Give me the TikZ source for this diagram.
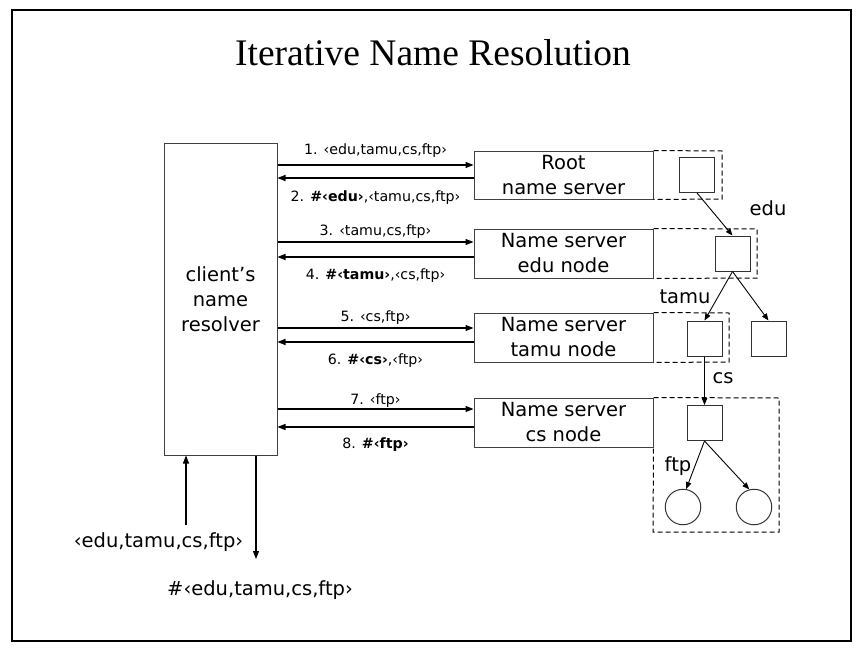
\documentclass[tikz,border=0pt]{standalone}
\usepackage{fontspec}
\setmainfont{DejaVu Sans}
\newfontfamily\titlefont{Liberation Serif}
\usetikzlibrary{arrows.meta}
\begin{document}
\begin{tikzpicture}[x=1pt,y=-1pt,
  box/.style={draw=black!75, line width=1pt, inner sep=0pt, align=center, font=\fontsize{19.5}{25}\selectfont},
  sq/.style={draw=black!80, line width=1pt, minimum width=35pt, minimum height=35pt, inner sep=0pt},
  circ/.style={draw=black!80, line width=1pt, circle, minimum size=35.5pt, inner sep=0pt},
  arr/.style={line width=1.1pt, -{Triangle[length=8pt,width=6pt]}},
  tarr/.style={line width=0.9pt, -{Triangle[length=7pt,width=5.5pt]}},
  dbox/.style={draw=black, line width=1pt, dash pattern=on 5pt off 3pt},
  lab/.style={font=\fontsize{14.2}{16}\selectfont, inner sep=0pt, anchor=base},
  tlab/.style={font=\fontsize{19.5}{21}\selectfont, inner sep=0pt},
  big/.style={font=\fontsize{19.5}{22}\selectfont, inner sep=0pt, anchor=base}]
\useasboundingbox (0,0) rectangle (863,651);
\draw[line width=1.5pt] (12,10) rectangle (851,641);
\node[font=\titlefont\fontsize{37.5}{40}\selectfont] (title) at (433,53) {Iterative Name Resolution};

% client
\node[box, minimum width=113pt, minimum height=312pt] (client) at (220.5,299) {client’s\\name\\resolver};

% servers
\node[box, minimum width=179pt, minimum height=48pt] (root) at (563.5,175) {Root\\name server};
\node[box, minimum width=179pt, minimum height=49pt] (edu) at (563.5,253.5) {Name server\\edu node};
\node[box, minimum width=179pt, minimum height=49pt] (tamu) at (563.5,337.5) {Name server\\tamu node};
\node[box, minimum width=179pt, minimum height=49pt] (cs) at (563.5,422.5) {Name server\\cs node};

% dashed boxes
\draw[dbox] (root.north east) -- (722,151) -- (722,199) -- (root.south east);
\draw[dbox] (edu.north east) -- (757,229) -- (757,278) -- (edu.south east);
\draw[dbox] (tamu.north east) -- (729,313) -- (729,362) -- (tamu.south east);
\draw[dbox] (cs.north east) -- (779,398) -- (779,532) -- (653,532) -- (cs.south east);

% messages
\draw[arr] (client.east |- 0,165) -- node[lab, yshift=10.7pt] (m1) {1. ‹edu,tamu,cs,ftp›} (root.west |- 0,165);
\draw[arr] (root.west |- 0,178) -- node[lab, yshift=-23.5pt] (m2) {2. \textbf{\#‹edu›},‹tamu,cs,ftp›} (client.east |- 0,178);
\draw[arr] (client.east |- 0,242) -- node[lab, yshift=6.5pt] (m3) {3. ‹tamu,cs,ftp›} (edu.west |- 0,242);
\draw[arr] (edu.west |- 0,257) -- node[lab, yshift=-22pt] (m4) {4. \textbf{\#‹tamu›},‹cs,ftp›} (client.east |- 0,257);
\draw[arr] (client.east |- 0,328) -- node[lab, yshift=7pt] (m5) {5. ‹cs,ftp›} (tamu.west |- 0,328);
\draw[arr] (tamu.west |- 0,342) -- node[lab, yshift=-22pt] (m6) {6. \textbf{\#‹cs›},‹ftp›} (client.east |- 0,342);
\draw[arr] (client.east |- 0,409) -- node[lab, yshift=5pt] (m7) {7. ‹ftp›} (cs.west |- 0,409);
\draw[arr] (cs.west |- 0,427) -- node[lab, yshift=-21pt] (m8) {8. \textbf{\#‹ftp›}} (client.east |- 0,427);

% tree
\node[sq] (r) at (697,175) {};
\node[sq] (e) at (732.5,253.5) {};
\node[sq] (t) at (704.5,338.5) {};
\node[sq] (t2) at (768.5,338.5) {};
\node[sq] (c) at (704.5,423) {};
\node[circ] (f1) at (683,507) {};
\node[circ] (f2) at (754,507) {};
\draw[tarr] (r.south) -- (e.north);
\draw[tarr] (e.south) -- (t.north);
\draw[tarr] (e.south) -- (t2.north);
\draw[tarr] (t.south) -- (c.north);
\draw[tarr] (c.south) -- (f1.80);
\draw[tarr] (c.south) -- (f2.105);
\node[tlab] (ledu) at (768,208) {edu};
\node[tlab] (ltamu) at (685,297) {tamu};
\node[tlab] (lcs) at (723,378) {cs};
\node[tlab] (lftp) at (678,466) {ftp};

% input/output
\node[big] (inlab) at (158.5,547) {‹edu,tamu,cs,ftp›};
\node[big] (outlab) at (260,595) {\#‹edu,tamu,cs,ftp›};
\coordinate (inst) at (186,525);
\coordinate (outend) at (256,559);
\draw[arr] (inst) -- (client.south -| inst);
\draw[arr] (client.south -| outend) -- (outend);
\end{tikzpicture}
\end{document}
